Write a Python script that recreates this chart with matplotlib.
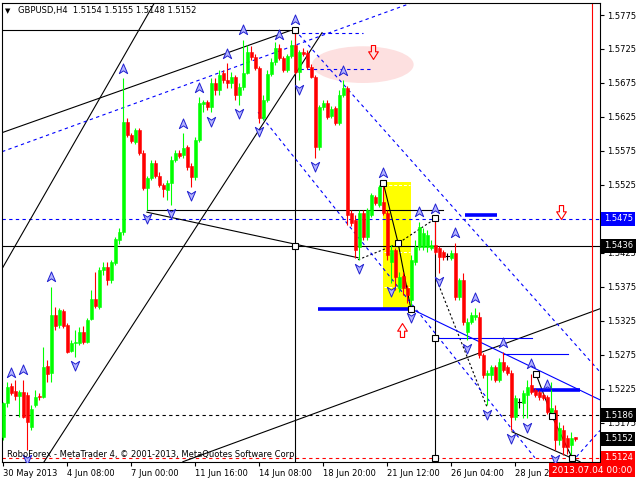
import matplotlib
matplotlib.use("Agg")
import matplotlib.pyplot as plt
import matplotlib.transforms as mtransforms
from matplotlib.patches import Ellipse, Rectangle
from matplotlib.path import Path

# ===== GBPUSD H4 candles =====
opens = [1.5154, 1.5204, 1.5229, 1.5222, 1.5215, 1.5221, 1.5216, 1.5169, 1.5201, 1.5215,
         1.5213, 1.5259, 1.5249, 1.5334, 1.5319, 1.5340, 1.5319, 1.5281, 1.5293, 1.5293,
         1.5309, 1.5294, 1.5328, 1.5357, 1.5346, 1.5400, 1.5404, 1.5385, 1.5410, 1.5444,
         1.5456, 1.5618, 1.5599, 1.5588, 1.5606, 1.5572, 1.5521, 1.5535, 1.5557, 1.5538,
         1.5525, 1.5518, 1.5528, 1.5562, 1.5572, 1.5569, 1.5581, 1.5553, 1.5537, 1.5591,
         1.5644, 1.5647, 1.5640, 1.5675, 1.5665, 1.5690, 1.5679, 1.5675, 1.5684, 1.5657,
         1.5669, 1.5690, 1.5721, 1.5713, 1.5697, 1.5624, 1.5650, 1.5688, 1.5706, 1.5726,
         1.5712, 1.5694, 1.5715, 1.5731, 1.5691, 1.5721, 1.5719, 1.5699, 1.5684, 1.5581,
         1.5640, 1.5646, 1.5626, 1.5638, 1.5616, 1.5657, 1.5668, 1.5484, 1.5474, 1.5434,
         1.5484, 1.5449, 1.5481, 1.5507, 1.5496, 1.5500, 1.5484, 1.5412, 1.5429, 1.5374,
         1.5391, 1.5374, 1.5356, 1.5412, 1.5434, 1.5434, 1.5434, 1.5432, 1.5437, 1.5432,
         1.5426, 1.5421, 1.5418, 1.5425, 1.5360, 1.5385, 1.5309, 1.5324, 1.5331, 1.5331,
         1.5275, 1.5246, 1.5246, 1.5257, 1.5238, 1.5265, 1.5257, 1.5249, 1.5184, 1.5206,
         1.5204, 1.5216, 1.5231, 1.5224, 1.5221, 1.5216, 1.5213, 1.5191, 1.5194, 1.5150,
         1.5165, 1.5153, 1.5143, 1.5154]
highs = [1.5206, 1.5235, 1.5234, 1.5238, 1.5224, 1.5238, 1.5221, 1.5201, 1.5224, 1.5219,
         1.5287, 1.5268, 1.5375, 1.5346, 1.5344, 1.5343, 1.5322, 1.5297, 1.5312, 1.5316,
         1.5318, 1.5329, 1.5371, 1.5397, 1.5404, 1.5412, 1.5412, 1.5415, 1.5449, 1.5462,
         1.5682, 1.5624, 1.5601, 1.5609, 1.5609, 1.5576, 1.5538, 1.5562, 1.5562, 1.5544,
         1.5528, 1.5532, 1.5568, 1.5576, 1.5576, 1.5601, 1.5584, 1.5557, 1.5596, 1.5654,
         1.5650, 1.5650, 1.5682, 1.5682, 1.5694, 1.5694, 1.5704, 1.5691, 1.5687, 1.5675,
         1.5738, 1.5731, 1.5729, 1.5718, 1.5700, 1.5657, 1.5694, 1.5712, 1.5735, 1.5732,
         1.5715, 1.5718, 1.5738, 1.5753, 1.5724, 1.5726, 1.5724, 1.5703, 1.5687, 1.5643,
         1.5650, 1.5650, 1.5641, 1.5641, 1.5665, 1.5679, 1.5671, 1.5488, 1.5481, 1.5488,
         1.5488, 1.5491, 1.5513, 1.5510, 1.5525, 1.5528, 1.5488, 1.5437, 1.5432, 1.5397,
         1.5397, 1.5378, 1.5422, 1.5444, 1.5471, 1.5462, 1.5459, 1.5444, 1.5476, 1.5435,
         1.5429, 1.5425, 1.5429, 1.5440, 1.5388, 1.5396, 1.5329, 1.5338, 1.5344, 1.5338,
         1.5278, 1.5253, 1.5260, 1.5260, 1.5271, 1.5279, 1.5260, 1.5253, 1.5216, 1.5212,
         1.5224, 1.5238, 1.5247, 1.5226, 1.5224, 1.5219, 1.5216, 1.5235, 1.5201, 1.5176,
         1.5172, 1.5157, 1.5162, 1.5155]
lows = [1.5150, 1.5199, 1.5216, 1.5209, 1.5184, 1.5182, 1.5135, 1.5165, 1.5199, 1.5209,
        1.5212, 1.5235, 1.5235, 1.5312, 1.5315, 1.5315, 1.5278, 1.5279, 1.5272, 1.5290,
        1.5291, 1.5293, 1.5326, 1.5344, 1.5343, 1.5393, 1.5378, 1.5381, 1.5407, 1.5438,
        1.5451, 1.5596, 1.5587, 1.5585, 1.5569, 1.5518, 1.5488, 1.5532, 1.5535, 1.5522,
        1.5507, 1.5503, 1.5496, 1.5559, 1.5565, 1.5565, 1.5547, 1.5522, 1.5532, 1.5588,
        1.5632, 1.5635, 1.5632, 1.5657, 1.5657, 1.5675, 1.5668, 1.5668, 1.5650, 1.5643,
        1.5665, 1.5688, 1.5709, 1.5694, 1.5616, 1.5621, 1.5647, 1.5685, 1.5701, 1.5709,
        1.5691, 1.5691, 1.5712, 1.5688, 1.5679, 1.5715, 1.5696, 1.5682, 1.5565, 1.5576,
        1.5635, 1.5622, 1.5624, 1.5613, 1.5613, 1.5654, 1.5466, 1.5465, 1.5418, 1.5415,
        1.5444, 1.5444, 1.5478, 1.5496, 1.5493, 1.5481, 1.5415, 1.5381, 1.5371, 1.5368,
        1.5363, 1.5351, 1.5343, 1.5407, 1.5429, 1.5429, 1.5426, 1.5429, 1.5424, 1.5396,
        1.5415, 1.5415, 1.5415, 1.5356, 1.5356, 1.5319, 1.5297, 1.5321, 1.5326, 1.5271,
        1.5241, 1.5201, 1.5238, 1.5235, 1.5235, 1.5250, 1.5246, 1.5165, 1.5179, 1.5197,
        1.5182, 1.5182, 1.5218, 1.5213, 1.5209, 1.5209, 1.5188, 1.5188, 1.5135, 1.5143,
        1.5128, 1.5130, 1.5124, 1.5148]
closes = [1.5204, 1.5228, 1.5219, 1.5215, 1.5221, 1.5184, 1.5176, 1.5196, 1.5213, 1.5213,
          1.5257, 1.5247, 1.5334, 1.5318, 1.5341, 1.5318, 1.5279, 1.5293, 1.5294, 1.5309,
          1.5294, 1.5326, 1.5357, 1.5347, 1.5400, 1.5404, 1.5385, 1.5412, 1.5446, 1.5456,
          1.5618, 1.5599, 1.5590, 1.5606, 1.5572, 1.5521, 1.5535, 1.5557, 1.5538, 1.5525,
          1.5519, 1.5528, 1.5562, 1.5572, 1.5568, 1.5579, 1.5551, 1.5537, 1.5591, 1.5646,
          1.5647, 1.5640, 1.5675, 1.5665, 1.5687, 1.5679, 1.5675, 1.5684, 1.5657, 1.5669,
          1.5690, 1.5721, 1.5713, 1.5697, 1.5624, 1.5650, 1.5688, 1.5706, 1.5726, 1.5712,
          1.5694, 1.5715, 1.5731, 1.5691, 1.5721, 1.5718, 1.5699, 1.5684, 1.5581, 1.5640,
          1.5646, 1.5625, 1.5637, 1.5616, 1.5657, 1.5668, 1.5481, 1.5469, 1.5429, 1.5484,
          1.5449, 1.5488, 1.5510, 1.5499, 1.5522, 1.5484, 1.5422, 1.5429, 1.5390, 1.5390,
          1.5374, 1.5363, 1.5415, 1.5434, 1.5463, 1.5454, 1.5451, 1.5437, 1.5426, 1.5419,
          1.5419, 1.5421, 1.5425, 1.5360, 1.5385, 1.5324, 1.5324, 1.5334, 1.5334, 1.5275,
          1.5246, 1.5249, 1.5257, 1.5238, 1.5265, 1.5253, 1.5249, 1.5184, 1.5212, 1.5206,
          1.5219, 1.5228, 1.5221, 1.5216, 1.5213, 1.5212, 1.5191, 1.5197, 1.5150, 1.5168,
          1.5140, 1.5140, 1.5153, 1.5152]

time_ticks = [0, 16, 32, 48, 64, 80, 96, 112, 128]
time_labels = ["30 May 2013", "4 Jun 08:00", "7 Jun 00:00", "11 Jun 16:00", "14 Jun 08:00",
               "18 Jun 20:00", "21 Jun 12:00", "26 Jun 04:00", "28 Jun 20:00"]
price_ticks = [1.5775, 1.5725, 1.5675, 1.5625, 1.5575, 1.5525, 1.5475, 1.5425,
               1.5375, 1.5325, 1.5275, 1.5225, 1.5175, 1.5125]

up_fractals = [2, 5, 12, 30, 45, 49, 56, 60, 69, 73, 85, 95, 104, 108, 113, 118, 125, 132, 136]
down_fractals = [6, 18, 36, 42, 47, 52, 59, 64, 74, 78, 89, 97, 102, 109, 116, 121, 127, 131, 138]

# horizontal levels (price, colour, style)
levels = [(1.5475, "#0000ff", "dash"), (1.5436, "black", "solid"),
          (1.5186, "black", "dash"), (1.5124, "red", "dash")]
# price labels on the scale (price, box colour)
price_boxes = [(1.5475, "#0000ff"), (1.5436, "black"), (1.5186, "black"),
               (1.5152, "black"), (1.5124, "#ff0000")]

# trendline anchors: (bar, price)
black_lines = [
    [(-0.3, 1.5753), (73, 1.5753)],
    [(-0.3, 1.5602), (71.7, 1.5752)],
    [(-0.1, 1.5404), (37.9, 1.5794)],
    [(10.2, 1.5118), (79.7, 1.5749)],
    [(35.9, 1.5485), (88.7, 1.5418)],
    [(35.9, 1.5488), (109.9, 1.5488)],
    [(44.9, 1.5118), (149.2, 1.5343)],
    [(95.0, 1.5528), (98.7, 1.5440), (101.9, 1.5343)],
    [(133.2, 1.5247), (137.2, 1.5185), (142.2, 1.5124)],
    [(127.2, 1.5162), (144.2, 1.5118)],
    [(73, 1.5753), (73, 1.5100)],
    [(108, 1.5477), (108, 1.5100)],
]
black_dotted = [
    [(88.7, 1.5415), (98.4, 1.5438), (108.4, 1.5477)],
    [(108.4, 1.5385), (120.9, 1.5199)],
]
blue_dashed = [
    [(-0.3, 1.5574), (102.2, 1.5793)],
    [(72.9, 1.5749), (89.9, 1.5749)],
    [(74.2, 1.5696), (92.2, 1.5696)],
    [(72.9, 1.5753), (149.2, 1.5250)],
    [(63.7, 1.5632), (132.9, 1.5124)],
    [(142.2, 1.5118), (149.2, 1.5164)],
]
blue_thin = [
    [(101.9, 1.5343), (149.2, 1.5209)],
    [(107.9, 1.5300), (132.2, 1.5300)],
    [(124.9, 1.5277), (141.2, 1.5277)],
]
blue_thick = [
    [(78.7, 1.5342), (102.2, 1.5342)],
    [(115.4, 1.5481), (123.4, 1.5481)],
    [(132.4, 1.5224), (144.2, 1.5224)],
]
anchor_squares = [(73, 1.5753), (73, 1.5436), (95.0, 1.5528), (98.7, 1.5440), (101.9, 1.5343),
                  (108, 1.5477), (108, 1.5300), (108, 1.5124),
                  (133.2, 1.5247), (137.2, 1.5185), (142.2, 1.5124)]
red_down_arrows = [(92.4, 1.5721), (139.4, 1.5485)]
red_up_arrows = [(99.7, 1.5312)]
target_zone = (89.9, 1.5702, 25.4, 0.0054)        # ellipse centre/size
box_zone = (95.0, 1.5344, 6.9, 0.0186)            # yellow rectangle
box_fib = [1.5525, 1.5426, 1.5375]
now_bar = 147.2

FS = 6

# ===== FIGURE =====
plt.rcParams["font.family"] = "DejaVu Sans"
fig = plt.figure(figsize=(6.4, 4.8), dpi=100)
ax = fig.add_axes([2 / 640, 18 / 480, 598 / 640, 459 / 480])
ax.set_xlim(-0.33, 149.2)
ax.set_ylim(1.51176, 1.579265)

# background objects
ax.add_patch(Ellipse(target_zone[:2], target_zone[2], target_zone[3], fc="#fde0e0", ec="none", zorder=0.5))
ax.add_patch(Rectangle(box_zone[:2], box_zone[2], box_zone[3], fc="#ffff00", ec="none", zorder=0.5))
for p in box_fib:
    ax.plot([box_zone[0] + 0.3, box_zone[0] + box_zone[2] - 0.3], [p, p], color="white",
            lw=0.7, ls=(0, (3, 2)), zorder=0.6)

dash = (0, (3, 3))
for p, col, st in levels:
    ax.axhline(p, color=col, lw=0.8, ls=dash if st == "dash" else "-", zorder=1)

for ln in black_lines:
    ax.plot([a for a, b in ln], [b for a, b in ln], color="black", lw=0.8, zorder=1)
for ln in black_dotted:
    ax.plot([a for a, b in ln], [b for a, b in ln], color="black", lw=0.8, ls=(0, (2, 2)), zorder=1)
for ln in blue_dashed:
    ax.plot([a for a, b in ln], [b for a, b in ln], color="#0000ff", lw=0.8, ls=dash, zorder=1)
for ln in blue_thin:
    ax.plot([a for a, b in ln], [b for a, b in ln], color="#0000ff", lw=0.8, zorder=1)
for ln in blue_thick:
    ax.plot([a for a, b in ln], [b for a, b in ln], color="#0000ff", lw=2.6, zorder=1,
            solid_capstyle="butt")

ax.axvline(now_bar, color="#ff0000", lw=0.8, zorder=1)

# candles
for i in range(len(closes)):
    o, h, l, c = opens[i], highs[i], lows[i], closes[i]
    if c > o:
        col = "#00ff00"
    elif c < o:
        col = "#ff0000"
    else:
        col = "black"
    ax.plot([i, i], [l, h], color=col, lw=0.8, zorder=3, solid_capstyle="butt")
    if c != o:
        ax.bar(i, c - o, bottom=o, width=0.75, color=col, edgecolor=col, lw=0.4, zorder=3)
    else:
        ax.plot([i - 0.4, i + 0.4], [o, o], color=col, lw=0.8, zorder=3)

# fractal arrows
up_path = Path([(0, 1), (0.75, -0.75), (0, -0.25), (-0.75, -0.75), (0, 1)],
               [Path.MOVETO, Path.LINETO, Path.LINETO, Path.LINETO, Path.CLOSEPOLY])
down_path = Path([(0, -1), (0.75, 0.75), (0, 0.25), (-0.75, 0.75), (0, -1)],
                 [Path.MOVETO, Path.LINETO, Path.LINETO, Path.LINETO, Path.CLOSEPOLY])
up_tr = mtransforms.offset_copy(ax.transData, fig=fig, y=7, units="points")
dn_tr = mtransforms.offset_copy(ax.transData, fig=fig, y=-6, units="points")
ax.plot(up_fractals, [highs[i] for i in up_fractals], ls="none", marker=up_path, ms=8,
        mfc="#b4b4ff", mec="#2020d0", mew=0.7, transform=up_tr, zorder=4)
ax.plot(down_fractals, [lows[i] for i in down_fractals], ls="none", marker=down_path, ms=8,
        mfc="#b4b4ff", mec="#2020d0", mew=0.7, transform=dn_tr, zorder=4)

# anchor squares
ax.plot([a for a, b in anchor_squares], [b for a, b in anchor_squares], ls="none", marker="s",
        ms=4, mfc="white", mec="black", mew=0.8, zorder=5)

# red hollow arrows
arr_down = Path([(-0.3, 1), (0.3, 1), (0.3, 0.1), (0.7, 0.1), (0, -1), (-0.7, 0.1), (-0.3, 0.1), (-0.3, 1)],
                [Path.MOVETO] + [Path.LINETO] * 6 + [Path.CLOSEPOLY])
arr_up = Path([(-0.3, -1), (0.3, -1), (0.3, -0.1), (0.7, -0.1), (0, 1), (-0.7, -0.1), (-0.3, -0.1), (-0.3, -1)],
              [Path.MOVETO] + [Path.LINETO] * 6 + [Path.CLOSEPOLY])
ax.plot([a for a, b in red_down_arrows], [b for a, b in red_down_arrows], ls="none", marker=arr_down,
        ms=10, mfc="none", mec="#ff0000", mew=0.8, zorder=5)
ax.plot([a for a, b in red_up_arrows], [b for a, b in red_up_arrows], ls="none", marker=arr_up,
        ms=10, mfc="none", mec="#ff0000", mew=0.8, zorder=5)

# axes styling
for s in ax.spines.values():
    s.set_linewidth(0.8)
ax.yaxis.tick_right()
boxed = [p for p, c in price_boxes]
ax.set_yticks(price_ticks)
# labels hidden under a boxed level are left blank
ax.set_yticklabels(["" if any(abs(p - b) < 0.0003 for b in boxed) else f"{p:.4f}" for p in price_ticks])
ax.tick_params(axis="y", direction="out", length=3, width=0.8, pad=2, labelsize=FS, colors="black")
ax.set_xticks(time_ticks)
ax.set_xticklabels(time_labels, ha="left")
ax.tick_params(axis="x", direction="out", length=3, width=0.8, pad=2, labelsize=FS)

blend = mtransforms.blended_transform_factory(ax.transAxes, ax.transData)
for p, col in price_boxes:
    ax.text(1.0065, p, f"{p:.4f}", transform=blend, ha="left", va="center", fontsize=FS,
            color="white", zorder=10, clip_on=False,
            bbox=dict(boxstyle="square,pad=0.3", fc=col, ec="none"))

blend_x = mtransforms.blended_transform_factory(ax.transData, ax.transAxes)
ax.text(now_bar, -0.0175, "2013.07.04 00:00", transform=blend_x, ha="center", va="center",
        fontsize=FS + 0.5, color="white", zorder=10, clip_on=False,
        bbox=dict(boxstyle="square,pad=0.3", fc="#ff0000", ec="none"))

fig.text(5 / 640, 1 - 11 / 480, "\u25bc", fontsize=5, va="center", ha="left")
fig.text(18 / 640, 1 - 11 / 480, "GBPUSD,H4  1.5154 1.5155 1.5148 1.5152", fontsize=FS,
         va="center", ha="left")
ax.text(0.009, 0.016, "RoboForex - MetaTrader 4, \u00a9 2001-2013, MetaQuotes Software Corp.",
        transform=ax.transAxes, fontsize=FS, va="center", ha="left", zorder=6)

fig.savefig("out.png", dpi=100)
